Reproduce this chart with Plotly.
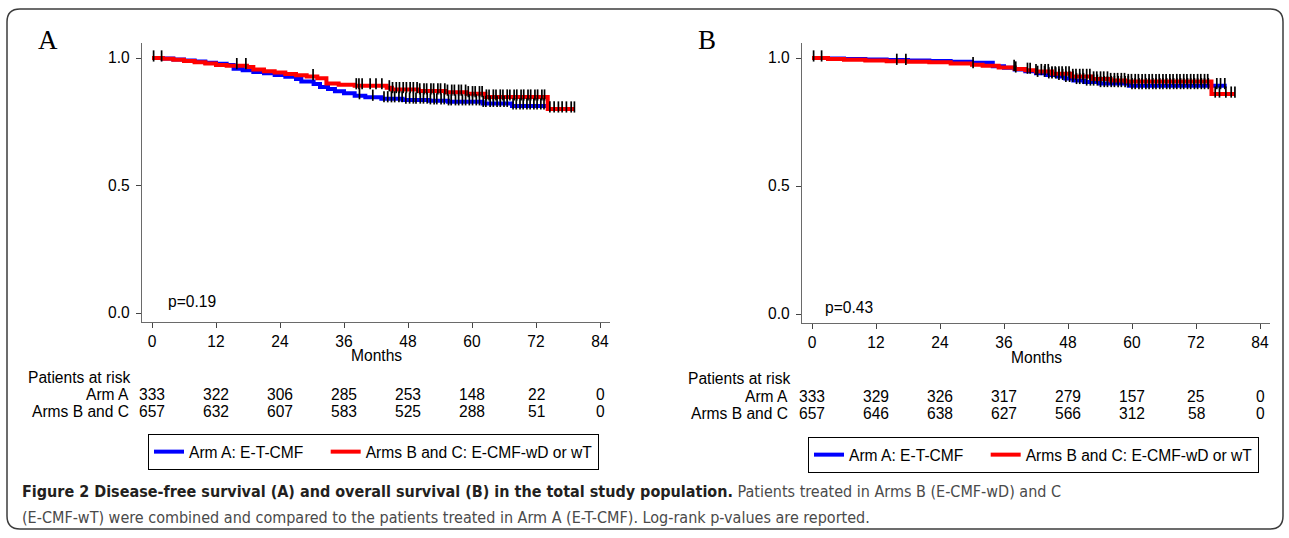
import numpy as np
import plotly.graph_objects as go

# ---------------- data ----------------
month_ticks = [0, 12, 24, 36, 48, 60, 72, 84]
surv_ticks = [0.0, 0.5, 1.0]
surv_tick_labels = ["0.0", "0.5", "1.0"]

# Panel A - disease-free survival (time of step, survival after the step)
dfs_armA_t = [0, 2, 4, 6, 8, 10, 12, 14, 15.3, 17, 19, 21, 23, 25, 27, 28, 30.3,
              31.5, 33, 34.3, 36, 38, 40, 43, 47, 52, 55.5, 62, 67.5]
dfs_armA_s = [1.0, 0.998, 0.994, 0.99, 0.986, 0.981, 0.977, 0.973, 0.958, 0.952,
              0.945, 0.94, 0.933, 0.926, 0.918, 0.908, 0.898, 0.886, 0.878, 0.87,
              0.862, 0.852, 0.846, 0.84, 0.835, 0.832, 0.828, 0.822, 0.812]
dfs_armA_end = 74.0

dfs_armBC_t = [0, 2, 4, 6, 8, 10, 12, 14, 17.8, 19, 21, 23, 25, 27, 29, 31, 32.7,
               35, 38, 44, 45, 50, 55, 59, 62.5, 74.2]
dfs_armBC_s = [1.0, 0.997, 0.993, 0.988, 0.983, 0.978, 0.973, 0.97, 0.965, 0.955,
               0.948, 0.943, 0.937, 0.932, 0.927, 0.921, 0.9, 0.895, 0.891, 0.883,
               0.876, 0.871, 0.866, 0.86, 0.847, 0.80]
dfs_armBC_end = 79.3

dfs_armA_censor = [38.9, 41.4, 43.5, 44.2, 44.9, 45.5, 46.3, 46.9, 47.6, 48.3, 49.0,
                   49.5, 50.3, 50.9, 51.6, 52.2, 52.9, 53.4, 54.2, 54.8, 55.6, 56.1,
                   56.9, 57.5, 58.2, 58.8, 59.5, 60.1, 60.8, 61.4, 62.1, 62.6, 63.4,
                   64.0, 64.7, 65.3, 66.0, 66.6, 67.7, 68.3, 69.0, 69.6, 70.3, 70.9,
                   71.6, 72.2, 72.9, 73.5]
dfs_armBC_censor = [0.3, 1.8, 15.9, 17.6, 30.2, 38.3, 38.8, 39.4, 40.9, 42.0, 43.1,
                    44.5, 45.1, 45.8, 46.4, 47.1, 47.7, 48.4, 49.0, 49.7, 50.2, 51.0,
                    51.5, 52.3, 52.8, 53.6, 54.1, 54.9, 55.4, 56.2, 56.7, 57.5, 58.0,
                    58.8, 59.3, 60.1, 60.6, 61.4, 61.9, 62.7, 63.2, 64.0, 64.5, 65.3,
                    65.8, 66.6, 67.1, 67.9, 68.4, 69.2, 69.7, 70.5, 71.0, 71.8, 72.3,
                    73.1, 73.6, 74.6, 75.4, 76.2, 76.9, 77.7, 78.6, 79.2]

# Panel B - overall survival
os_armA_t = [0, 3, 6, 10, 14, 18, 22, 26, 30, 33.9, 36, 38, 40, 42, 44, 46, 47.5,
             49, 51, 54, 59.4]
os_armA_s = [1.0, 0.998, 0.996, 0.994, 0.992, 0.99, 0.988, 0.985, 0.981, 0.968,
             0.962, 0.955, 0.948, 0.94, 0.934, 0.928, 0.92, 0.912, 0.906, 0.9, 0.892]
os_armA_end = 77.75

os_armBC_t = [0, 3, 6, 10, 14, 18, 22, 26, 30, 32, 35, 38, 40, 42, 45, 48.7, 52.5,
              56, 58.7, 74.9]
os_armBC_s = [1.0, 0.996, 0.993, 0.99, 0.987, 0.985, 0.983, 0.979, 0.974, 0.97,
              0.963, 0.957, 0.952, 0.947, 0.938, 0.928, 0.918, 0.912, 0.908, 0.859]
os_armBC_end = 79.3

os_armA_censor = [42.3, 43.6, 44.4, 45.0, 45.7, 46.3, 47.0, 47.6, 48.3, 48.9, 49.6,
                  50.2, 50.9, 51.5, 52.2, 52.8, 53.5, 54.1, 54.8, 55.4, 56.1, 56.7,
                  57.4, 58.0, 58.7, 59.3, 60.0, 60.6, 61.3, 61.9, 62.6, 63.2, 63.9,
                  64.5, 65.2, 65.8, 66.5, 67.1, 67.8, 68.4, 69.1, 69.7, 70.4, 71.0,
                  71.7, 72.3, 73.0, 73.6, 74.3, 75.9, 76.6, 77.4]
os_armBC_censor = [0.3, 1.8, 15.9, 17.6, 30.2, 37.9, 38.2, 40.4, 40.9, 42.0, 43.0,
                   43.7, 44.3, 45.0, 45.6, 46.3, 46.9, 47.6, 48.2, 48.9, 49.5, 50.2,
                   50.8, 51.5, 52.1, 52.8, 53.4, 54.1, 54.7, 55.4, 56.0, 56.7, 57.3,
                   58.0, 58.6, 59.3, 59.9, 60.6, 61.2, 61.9, 62.5, 63.2, 63.8, 64.5,
                   65.1, 65.8, 66.4, 67.1, 67.7, 68.4, 69.0, 69.7, 70.3, 71.0, 71.6,
                   72.3, 72.9, 73.6, 74.2, 75.6, 76.4, 77.6, 78.6, 79.3]

# Patients at risk
dfs_risk_armA = [333, 322, 306, 285, 253, 148, 22, 0]
dfs_risk_armBC = [657, 632, 607, 583, 525, 288, 51, 0]
os_risk_armA = [333, 329, 326, 317, 279, 157, 25, 0]
os_risk_armBC = [657, 646, 638, 627, 566, 312, 58, 0]

series_names = ["Arm A: E-T-CMF", "Arms B and C: E-CMF-wD or wT"]
p_values = ["p=0.19", "p=0.43"]
panel_letters = ["A", "B"]
risk_row_labels = ["Patients at risk", "Arm A", "Arms B and C"]
x_title = "Months"

caption_bold = ("Figure 2 Disease-free survival (A) and overall survival (B) in the "
                "total study population.")
caption_rest1 = "Patients treated in Arms B (E-CMF-wD) and C"
caption_rest2 = ("(E-CMF-wT) were combined and compared to the patients treated in "
                 "Arm A (E-T-CMF). Log-rank p-values are reported.")

# ---------------- layout helpers ----------------
W, H = 1289, 538
BLUE = "rgb(0,0,255)"
RED = "rgb(255,0,0)"
FONT = "Liberation Sans, Arial, Helvetica, sans-serif"
FS = 15.6
CAPFONT = "Liberation Sans Narrow, Arial Narrow, DejaVu Sans Condensed, sans-serif"
LEGEND_PAD = "\u00a0" * 4  # extra spacing after the first legend entry


def px(x):
    return x / W


def py(y):
    return 1 - y / H


def step_xy(t, s, end):
    return list(t) + [end], list(s) + [s[-1]]


def surv_at(t, s, times):
    idx = np.searchsorted(np.asarray(t), np.asarray(times), side="right") - 1
    return np.asarray(s)[idx]


fig = go.Figure()

panels = [
    dict(xa="x", ya="y", leg="legend",
         curves=[(dfs_armA_t, dfs_armA_s, dfs_armA_end, dfs_armA_censor, BLUE),
                 (dfs_armBC_t, dfs_armBC_s, dfs_armBC_end, dfs_armBC_censor, RED)]),
    dict(xa="x2", ya="y2", leg="legend2",
         curves=[(os_armA_t, os_armA_s, os_armA_end, os_armA_censor, BLUE),
                 (os_armBC_t, os_armBC_s, os_armBC_end, os_armBC_censor, RED)]),
]

for p in panels:
    for i, (name, (t, s, end, cens, col)) in enumerate(zip(series_names, p["curves"])):
        xs, ys = step_xy(t, s, end)
        fig.add_trace(go.Scatter(
            x=xs, y=ys, mode="lines", line=dict(color=col, width=4, shape="hv"),
            name=name + (LEGEND_PAD if i == 0 else ""),
            xaxis=p["xa"], yaxis=p["ya"], legend=p["leg"], hoverinfo="skip"))
    for name, (t, s, end, cens, col) in zip(series_names, p["curves"]):
        fig.add_trace(go.Scatter(
            x=cens, y=surv_at(t, s, cens) + 0.008, mode="markers",
            marker=dict(symbol="line-ns", size=8,
                        line=dict(width=1.7, color="black")),
            showlegend=False, xaxis=p["xa"], yaxis=p["ya"], hoverinfo="skip"))

axis_common = dict(showline=True, linecolor="#6a6a6a", linewidth=1.4,
                   ticks="outside", ticklen=5, tickwidth=1.2, tickcolor="#444",
                   showgrid=False, zeroline=False,
                   tickfont=dict(family=FONT, size=FS, color="black"))

legend_common = dict(orientation="h", xanchor="left", yanchor="top",
                     bordercolor="black", borderwidth=1, bgcolor="white",
                     font=dict(family=FONT, size=FS, color="black"))

fig.update_layout(
    width=W, height=H, margin=dict(l=0, r=0, t=0, b=0),
    paper_bgcolor="white", plot_bgcolor="white", font=dict(family=FONT, color="black"),
    xaxis=dict(domain=[px(142), px(610)], range=[-1.875, 85.875], anchor="y",
               tickvals=month_ticks, **axis_common),
    yaxis=dict(domain=[py(322), py(43)], range=[(313 - 322) / 255, (313 - 43) / 255],
               anchor="x", tickvals=surv_ticks, ticktext=surv_tick_labels,
               ticklabelstandoff=3, **axis_common),
    xaxis2=dict(domain=[px(802), px(1270)], range=[-1.875, 85.875], anchor="y2",
                tickvals=month_ticks, **axis_common),
    yaxis2=dict(domain=[py(323), py(43)], range=[(314 - 323) / 256, (314 - 43) / 256],
                anchor="x2", tickvals=surv_ticks, ticktext=surv_tick_labels,
                ticklabelstandoff=3, **axis_common),
    legend=dict(x=px(148), y=py(434), **legend_common),
    legend2=dict(x=px(808), y=py(437), **legend_common),
)

ann = []
panel_geo = [
    dict(letter_x=48, letter_y=40, p_x=166, p_y=301, months_y=355, xref="x",
         par_x=26, lab_x=131, rows_y=[377, 394, 411],
         risk=[dfs_risk_armA, dfs_risk_armBC]),
    dict(letter_x=707, letter_y=40, p_x=823, p_y=307, months_y=357, xref="x2",
         par_x=686, lab_x=790, rows_y=[378, 396, 413],
         risk=[os_risk_armA, os_risk_armBC]),
]
for g, letter, pv in zip(panel_geo, panel_letters, p_values):
    ann.append(dict(text=letter, xref="paper", yref="paper", x=px(g["letter_x"]),
                    y=py(g["letter_y"]), showarrow=False, xanchor="center",
                    yanchor="middle",
                    font=dict(family="Liberation Serif, Times New Roman, serif",
                              size=27, color="black")))
    ann.append(dict(text=pv, xref="paper", yref="paper", x=px(g["p_x"]),
                    y=py(g["p_y"]), showarrow=False, xanchor="left", yanchor="middle",
                    font=dict(family=FONT, size=FS, color="black")))
    ann.append(dict(text=x_title, xref=g["xref"], yref="paper", x=42,
                    y=py(g["months_y"]), showarrow=False, xanchor="center",
                    yanchor="middle", font=dict(family=FONT, size=FS, color="black")))
    ann.append(dict(text=risk_row_labels[0], xref="paper", yref="paper",
                    x=px(g["par_x"]), y=py(g["rows_y"][0]), showarrow=False,
                    xanchor="left", yanchor="middle",
                    font=dict(family=FONT, size=FS, color="black")))
    for lab, row, yy in zip(risk_row_labels[1:], g["risk"], g["rows_y"][1:]):
        ann.append(dict(text=lab, xref="paper", yref="paper", x=px(g["lab_x"]),
                        y=py(yy), showarrow=False, xanchor="right", yanchor="middle",
                        font=dict(family=FONT, size=FS, color="black")))
        for m, n in zip(month_ticks, row):
            ann.append(dict(text=str(n), xref=g["xref"], yref="paper", x=m, y=py(yy),
                            showarrow=False, xanchor="center", yanchor="middle",
                            font=dict(family=FONT, size=FS, color="black")))

# caption
ann.append(dict(text="<b>" + caption_bold + "</b> <span style='color:#4a4a4a'>"
                + caption_rest1 + "</span>",
                xref="paper", yref="paper", x=px(20), y=py(492), showarrow=False,
                xanchor="left", yanchor="middle",
                font=dict(family=CAPFONT, size=16, color="#231f20")))
ann.append(dict(text=caption_rest2, xref="paper", yref="paper", x=px(20), y=py(517),
                showarrow=False, xanchor="left", yanchor="middle",
                font=dict(family=CAPFONT, size=16, color="#4a4a4a")))
fig.update_layout(annotations=ann)

# rounded outer frame
x0, x1, y0, y1, r = 7, 1283, 9, 529, 13
path = (f"M {px(x0 + r)},{py(y0)} L {px(x1 - r)},{py(y0)} "
        f"Q {px(x1)},{py(y0)} {px(x1)},{py(y0 + r)} L {px(x1)},{py(y1 - r)} "
        f"Q {px(x1)},{py(y1)} {px(x1 - r)},{py(y1)} L {px(x0 + r)},{py(y1)} "
        f"Q {px(x0)},{py(y1)} {px(x0)},{py(y1 - r)} L {px(x0)},{py(y0 + r)} "
        f"Q {px(x0)},{py(y0)} {px(x0 + r)},{py(y0)} Z")
fig.add_shape(type="path", path=path, xref="paper", yref="paper",
              line=dict(color="#3c3c3c", width=1.5), layer="below")

fig.write_html("out.html", config={"displayModeBar": False},
               post_script="document.body.style.margin='0';")
